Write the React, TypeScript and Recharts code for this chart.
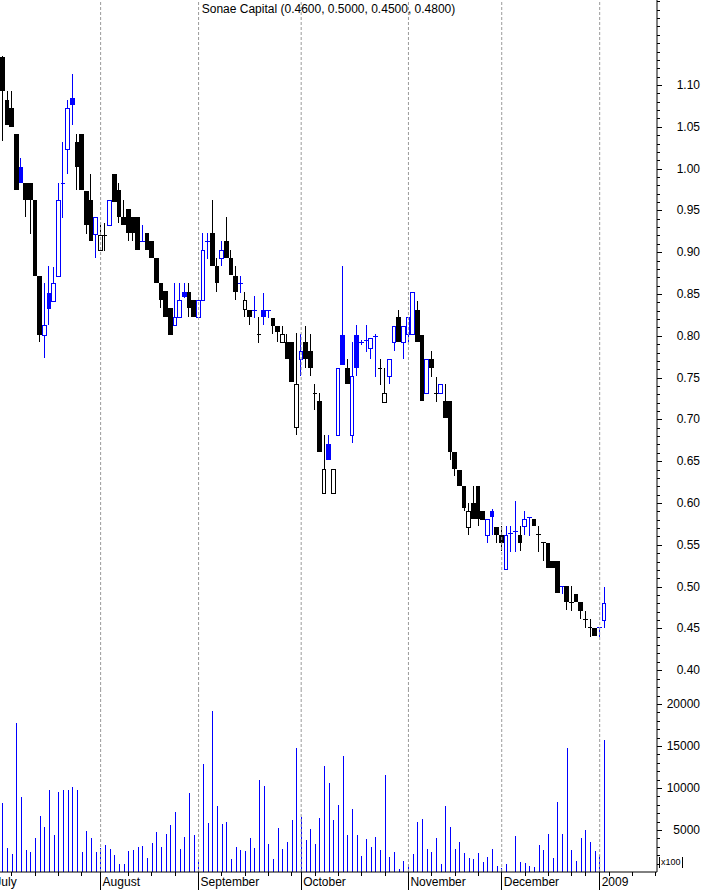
import React from 'react';
import { ComposedChart, Bar, XAxis, YAxis, ReferenceLine } from 'recharts';

const stockName = 'Sonae Capital';

const opens = [
  1.133, 1.082, 1.072, 1.042, 1.002, 0.983, 0.983, 0.962, 0.872, 0.801,
  0.851, 0.842, 0.872, 0.983, 1.023, 1.085, 1.032, 1.042, 0.973, 0.962,
  0.922, 0.903, 0.920, 0.932, 0.994, 0.974, 0.942, 0.952, 0.942, 0.942,
  0.913, 0.923, 0.913, 0.893, 0.863, 0.853, 0.833, 0.813, 0.823, 0.852,
  0.852, 0.843, 0.823, 0.843, 0.913, 0.923, 0.884, 0.893, 0.913, 0.893,
  0.872, 0.863, 0.832, 0.831, 0.831, 0.802, 0.831, 0.831, 0.821, 0.812,
  0.792, 0.792, 0.792, 0.691, 0.772, 0.792, 0.782, 0.732, 0.722, 0.612,
  0.670, 0.612, 0.681, 0.801, 0.762, 0.681, 0.801, 0.792, 0.795, 0.785,
  0.800, 0.762, 0.721, 0.752, 0.792, 0.822, 0.792, 0.802, 0.802, 0.831,
  0.801, 0.731, 0.772, 0.732, 0.731, 0.722, 0.722, 0.661, 0.640, 0.620,
  0.571, 0.600, 0.620, 0.590, 0.562, 0.591, 0.571, 0.562, 0.521, 0.564,
  0.566, 0.562, 0.572, 0.583, 0.581, 0.563, 0.553, 0.552, 0.531, 0.531,
  0.501, 0.501, 0.481, 0.491, 0.481, 0.461, 0.452, 0.451, 0.452, 0.460,
];

const highs = [
  1.135, 1.093, 1.093, 1.042, 1.013, 0.983, 0.983, 0.962, 0.872, 0.863,
  0.883, 0.882, 0.983, 1.032, 1.082, 1.113, 1.042, 1.042, 0.973, 0.994,
  0.942, 0.933, 0.935, 0.962, 0.994, 0.983, 0.962, 0.952, 0.942, 0.942,
  0.933, 0.923, 0.913, 0.893, 0.863, 0.853, 0.833, 0.863, 0.863, 0.863,
  0.863, 0.843, 0.843, 0.923, 0.923, 0.962, 0.893, 0.913, 0.942, 0.903,
  0.884, 0.872, 0.852, 0.831, 0.848, 0.822, 0.851, 0.831, 0.821, 0.812,
  0.812, 0.802, 0.792, 0.803, 0.802, 0.812, 0.802, 0.742, 0.732, 0.681,
  0.681, 0.641, 0.761, 0.883, 0.772, 0.793, 0.813, 0.795, 0.813, 0.797,
  0.802, 0.772, 0.762, 0.772, 0.812, 0.831, 0.812, 0.822, 0.852, 0.842,
  0.801, 0.772, 0.782, 0.751, 0.742, 0.742, 0.722, 0.661, 0.640, 0.620,
  0.600, 0.620, 0.620, 0.590, 0.581, 0.593, 0.571, 0.572, 0.572, 0.572,
  0.602, 0.572, 0.591, 0.583, 0.581, 0.572, 0.553, 0.552, 0.531, 0.531,
  0.501, 0.501, 0.501, 0.491, 0.481, 0.471, 0.461, 0.451, 0.452, 0.500,
];

const lows = [
  1.033, 1.052, 1.050, 0.974, 0.983, 0.942, 0.922, 0.872, 0.793, 0.773,
  0.813, 0.842, 0.872, 0.942, 0.994, 1.052, 0.974, 0.974, 0.922, 0.913,
  0.893, 0.903, 0.903, 0.932, 0.960, 0.935, 0.933, 0.913, 0.913, 0.903,
  0.913, 0.903, 0.893, 0.863, 0.833, 0.823, 0.801, 0.813, 0.823, 0.845,
  0.823, 0.823, 0.823, 0.843, 0.893, 0.884, 0.852, 0.884, 0.893, 0.873,
  0.843, 0.852, 0.822, 0.813, 0.822, 0.792, 0.813, 0.822, 0.802, 0.792,
  0.792, 0.772, 0.745, 0.681, 0.752, 0.762, 0.752, 0.712, 0.661, 0.612,
  0.651, 0.612, 0.681, 0.765, 0.742, 0.672, 0.752, 0.790, 0.782, 0.772,
  0.752, 0.742, 0.721, 0.742, 0.782, 0.792, 0.772, 0.792, 0.802, 0.792,
  0.722, 0.731, 0.751, 0.722, 0.731, 0.702, 0.651, 0.632, 0.620, 0.590,
  0.562, 0.581, 0.572, 0.580, 0.552, 0.562, 0.552, 0.542, 0.521, 0.542,
  0.542, 0.542, 0.562, 0.562, 0.572, 0.542, 0.532, 0.522, 0.522, 0.492,
  0.492, 0.472, 0.472, 0.481, 0.461, 0.452, 0.441, 0.441, 0.441, 0.450,
];

const closes = [
  1.093, 1.052, 1.050, 0.974, 0.983, 0.962, 0.962, 0.872, 0.801, 0.813,
  0.832, 0.863, 0.962, 0.983, 1.073, 1.076, 1.002, 0.974, 0.933, 0.913,
  0.942, 0.920, 0.920, 0.962, 0.960, 0.942, 0.933, 0.923, 0.923, 0.903,
  0.913, 0.903, 0.893, 0.863, 0.843, 0.823, 0.801, 0.823, 0.843, 0.846,
  0.833, 0.823, 0.843, 0.903, 0.913, 0.884, 0.863, 0.903, 0.893, 0.873,
  0.852, 0.863, 0.843, 0.822, 0.831, 0.802, 0.822, 0.831, 0.812, 0.805,
  0.802, 0.772, 0.745, 0.742, 0.782, 0.772, 0.762, 0.732, 0.661, 0.641,
  0.651, 0.641, 0.761, 0.765, 0.742, 0.752, 0.762, 0.792, 0.795, 0.797,
  0.800, 0.762, 0.731, 0.772, 0.812, 0.792, 0.812, 0.822, 0.852, 0.792,
  0.722, 0.772, 0.762, 0.732, 0.742, 0.702, 0.661, 0.641, 0.620, 0.594,
  0.591, 0.581, 0.581, 0.580, 0.581, 0.583, 0.562, 0.552, 0.562, 0.564,
  0.566, 0.552, 0.581, 0.583, 0.572, 0.563, 0.553, 0.522, 0.522, 0.492,
  0.501, 0.481, 0.481, 0.481, 0.471, 0.461, 0.452, 0.441, 0.452, 0.480,
];

const volumes = [
  8170, 2820, 2140, 17770, 8960, 2620, 2380, 4080, 6660, 5350,
  9760, 4400, 9520, 9760, 9760, 10080, 9760, 2380, 4880, 4080,
  2380, 2890, 3210, 2740, 2020, 950, 950, 2500, 2620, 2980,
  3090, 1670, 3450, 4760, 2980, 4520, 5590, 7140, 2740, 4170,
  9400, 4400, 1430, 12850, 5830, 19160, 7850, 5710, 5950, 1550,
  2980, 2620, 2500, 4050, 2860, 10950, 10230, 3330, 1550, 5240,
  2740, 3570, 6190, 14760, 6580, 3810, 5120, 3330, 6460, 12610,
  10590, 6190, 7970, 13800, 4400, 7500, 4400, 1900, 3930, 2980,
  4170, 2620, 11540, 1790, 2380, 360, 1310, 950, 2140, 5950,
  6310, 2740, 2380, 4050, 950, 7850, 5350, 2740, 3570, 2260,
  1670, 1550, 2260, 1190, 1790, 2740, 710, 480, 950, 0,
  4290, 1190, 1070, 710, 600, 3210, 2620, 4520, 1670, 8330,
  4520, 14760, 2620, 1310, 4050, 5000, 3570, 2500, 2020, 15710,
];

const monthStarts = [-2, 21, 42, 64, 87, 107, 128];
const monthLabels = ['July', 'August', 'September', 'October', 'November', 'December', '2009'];
const weekTicks = [2, 7, 12, 17, 27, 32, 37, 47, 52, 57, 62, 67, 72, 77, 82, 92, 97, 102, 112, 117, 122, 125, 130, 135, 140];
const priceLabels = [0.40, 0.45, 0.50, 0.55, 0.60, 0.65, 0.70, 0.75, 0.80, 0.85, 0.90, 0.95, 1.00, 1.05, 1.10];
const volumeLabels = [5000, 10000, 15000, 20000];

const X_DOMAIN: [number, number] = [-0.5725, 140.29];
const PRICE_DOMAIN: [number, number] = [0.3763, 1.2017];
const VOLUME_DOMAIN: [number, number] = [0, 21667];

const BLUE = '#0000ff';
const BLACK = '#000000';
const GRID = '#9a9a9a';
const FONT = '"Liberation Sans", Arial, sans-serif';

const data = opens.map((o, i) => ({
  i,
  o,
  h: highs[i],
  l: lows[i],
  c: closes[i],
  v: volumes[i],
  up: i > 0 && closes[i] > closes[i - 1],
}));

const priceTicks: number[] = [];
for (let k = 38; k <= 120; k++) priceTicks.push(k / 100);
const volumeTicks: number[] = [];
for (let k = 1; k <= 21; k++) volumeTicks.push(k * 1000);
const xTicks = [...monthStarts, ...weekTicks].sort((a, b) => a - b);

const last = data[data.length - 1];
const title = `${stockName} (${last.o.toFixed(4)}, ${last.h.toFixed(4)}, ${last.l.toFixed(4)}, ${last.c.toFixed(4)})`;

function renderCandle(props: any) {
  const { x, y, width, height, payload } = props;
  if (!payload || x == null || y == null) return <g />;
  const { o, h, l, c, up } = payload;
  const color = up ? BLUE : BLACK;
  const center = x + width / 2;
  const span = h - l;
  const k = span > 0 ? height / span : 0;
  const py = (v: number) => y + (h - v) * k;
  const wx = Math.floor(center) + 0.5;
  const left = Math.round(center - 2.33);
  const right = Math.round(center + 2.33);
  const yH = Math.round(py(h));
  const yL = Math.round(py(l));
  const yO = Math.round(py(o));
  const yC = Math.round(py(c));
  const top = Math.min(yO, yC);
  const bot = Math.max(yO, yC);
  if (bot - top < 1) {
    return (
      <g shapeRendering="crispEdges">
        <line x1={wx} x2={wx} y1={yH} y2={yL + 1} stroke={color} strokeWidth={1} />
        <line x1={left} x2={right} y1={top + 0.5} y2={top + 0.5} stroke={color} strokeWidth={1} />
      </g>
    );
  }
  if (c > o) {
    return (
      <g shapeRendering="crispEdges">
        {yH < top && <line x1={wx} x2={wx} y1={yH} y2={top} stroke={color} strokeWidth={1} />}
        {yL > bot && <line x1={wx} x2={wx} y1={bot} y2={yL} stroke={color} strokeWidth={1} />}
        <rect x={left + 0.5} y={top + 0.5} width={Math.max(right - left - 1, 1)} height={bot - top} fill="#ffffff" stroke={color} strokeWidth={1} />
      </g>
    );
  }
  return (
    <g shapeRendering="crispEdges">
      <line x1={wx} x2={wx} y1={yH} y2={yL} stroke={color} strokeWidth={1} />
      <rect x={left} y={top} width={right - left} height={bot - top} fill={color} />
    </g>
  );
}

function renderVolume(props: any) {
  const { x, y, width, height } = props;
  if (x == null || !height || height <= 0) return <g />;
  const cx = Math.floor(x + width / 2);
  return <rect x={cx} y={y} width={1} height={height} fill={BLUE} shapeRendering="crispEdges" />;
}

function renderPriceTick(props: any) {
  const { x, y, payload } = props;
  const v = payload.value;
  const major = priceLabels.some((p) => Math.abs(p - v) < 1e-6);
  const yy = Math.round(y) + 0.5;
  return (
    <g>
      <line x1={x} x2={x + (major ? 5 : 3)} y1={yy} y2={yy} stroke={BLACK} strokeWidth={1} shapeRendering="crispEdges" />
      {major && (
        <text x={x + 43} y={y} textAnchor="end" dominantBaseline="central" fontSize={12} fontFamily={FONT} fill={BLACK}>
          {v.toFixed(2)}
        </text>
      )}
    </g>
  );
}

function renderVolumeTick(props: any) {
  const { x, y, payload } = props;
  const v = payload.value;
  const major = volumeLabels.includes(v);
  const yy = Math.round(y) + 0.5;
  return (
    <g>
      <line x1={x} x2={x + (major ? 5 : 3)} y1={yy} y2={yy} stroke={BLACK} strokeWidth={1} shapeRendering="crispEdges" />
      {major && (
        <text x={x + 43} y={y} textAnchor="end" dominantBaseline="central" fontSize={12} fontFamily={FONT} fill={BLACK}>
          {String(v)}
        </text>
      )}
    </g>
  );
}

function renderXTick(props: any) {
  const { x, y, payload } = props;
  const v = payload.value;
  const mi = monthStarts.indexOf(v);
  const xx = Math.floor(x) + 0.5;
  if (mi >= 0) {
    return (
      <g>
        <line x1={xx} x2={xx} y1={y} y2={y + 18} stroke={BLACK} strokeWidth={1} shapeRendering="crispEdges" />
        <text x={x + 2} y={y + 14} fontSize={12} fontFamily={FONT} fill={BLACK}>
          {monthLabels[mi]}
        </text>
      </g>
    );
  }
  return <line x1={xx} x2={xx} y1={y} y2={y + 4} stroke={BLACK} strokeWidth={1} shapeRendering="crispEdges" />;
}

export default function App() {
  return (
    <div style={{ position: 'absolute', left: 0, top: 0, width: 707, height: 890, background: '#ffffff', overflow: 'hidden', fontFamily: FONT }}>
      <div style={{ position: 'absolute', left: 0, top: 0 }}>
        <ComposedChart width={707} height={690} data={data} margin={{ top: 0, right: 0, bottom: 0, left: 0 }}>
          <XAxis type="number" dataKey="i" domain={X_DOMAIN} allowDataOverflow hide />
          <YAxis
            orientation="right"
            width={50}
            type="number"
            domain={PRICE_DOMAIN}
            allowDataOverflow
            ticks={priceTicks}
            interval={0}
            tickSize={0}
            tickMargin={0}
            tickLine={false}
            axisLine={{ stroke: BLACK }}
            tick={renderPriceTick}
          />
          {monthStarts.map((m) => (
            <ReferenceLine key={m} x={m} stroke={GRID} strokeDasharray="3 2" ifOverflow="discard" />
          ))}
          <Bar dataKey={(d: any) => [d.l, d.h]} shape={renderCandle} barSize={4} isAnimationActive={false} />
        </ComposedChart>
      </div>
      <div style={{ position: 'absolute', left: 0, top: 690 }}>
        <ComposedChart width={707} height={200} data={data} margin={{ top: 0, right: 0, bottom: 0, left: 0 }}>
          <XAxis
            type="number"
            dataKey="i"
            domain={X_DOMAIN}
            allowDataOverflow
            height={18}
            ticks={xTicks}
            interval={0}
            tickSize={0}
            tickMargin={0}
            tickLine={false}
            axisLine={{ stroke: BLACK }}
            tick={renderXTick}
          />
          <YAxis
            orientation="right"
            width={50}
            type="number"
            domain={VOLUME_DOMAIN}
            allowDataOverflow
            ticks={volumeTicks}
            interval={0}
            tickSize={0}
            tickMargin={0}
            tickLine={false}
            axisLine={{ stroke: BLACK }}
            tick={renderVolumeTick}
          />
          {monthStarts.map((m) => (
            <ReferenceLine key={m} x={m} stroke={GRID} strokeDasharray="3 2" ifOverflow="discard" />
          ))}
          <Bar dataKey="v" shape={renderVolume} barSize={1} isAnimationActive={false} />
        </ComposedChart>
      </div>
      <div style={{ position: 'absolute', left: 0, top: 2, width: 657, textAlign: 'center', fontSize: 12, color: BLACK, lineHeight: '14px' }}>
        {title}
      </div>
      <div style={{ position: 'absolute', left: 659, top: 857, height: 11, padding: '0 1px', borderLeft: `1px solid ${BLACK}`, borderRight: `1px solid ${BLACK}`, fontSize: 9, lineHeight: '11px', color: BLACK }}>
        x100
      </div>
    </div>
  );
}
